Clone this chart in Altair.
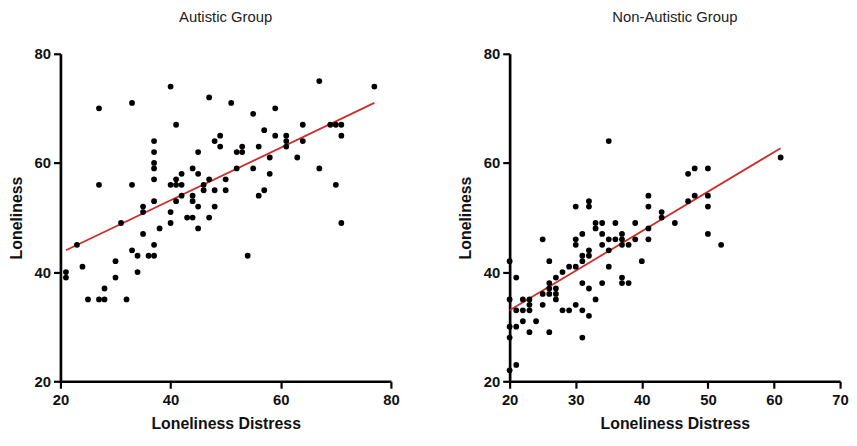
import altair as alt
import pandas as pd

# Autistic group (Loneliness Distress, Loneliness)
aut_x = [21, 21, 23, 24, 25, 27, 28, 28, 32, 30, 30, 34, 33, 34, 31, 35, 35, 35, 36, 37, 37, 37, 38, 40, 40, 41, 42, 43, 44, 44, 44, 45, 45, 47, 48,
         27, 33, 40, 47, 51, 41, 27, 33, 37, 37, 37, 37, 37, 40, 41, 42, 41, 42, 44, 45, 45, 46, 46, 47, 48, 49, 49, 48, 50, 50, 52,
         55, 59, 67, 77, 57, 59, 61, 61, 61, 64, 64, 69, 70, 71, 71, 53, 53, 56, 58, 63, 52, 55, 58, 67, 57, 56, 70, 71, 54]
aut_y = [40, 39, 45, 41, 35, 35, 35, 37, 35, 39, 42, 40, 44, 43, 49, 47, 52, 51, 43, 43, 45, 53, 48, 49, 51, 53, 54, 50, 50, 53, 54, 52, 48, 50, 52,
         70, 71, 74, 72, 71, 67, 56, 56, 64, 62, 60, 59, 57, 56, 56, 56, 57, 58, 59, 58, 62, 56, 55, 57, 64, 65, 63, 55, 57, 55, 62,
         69, 70, 75, 74, 66, 65, 65, 64, 63, 67, 64, 67, 67, 67, 65, 63, 62, 63, 61, 61, 59, 59, 58, 59, 55, 54, 56, 49, 43]

# Non-autistic group
non_x = [35, 30, 32, 32, 41, 41, 33, 33, 34, 36, 39, 31, 34, 37,
         61, 47, 48, 50, 47, 48, 50, 50, 43, 43, 45, 41, 39, 41, 50, 52,
         25, 30, 30, 34, 35, 36, 37, 37, 38, 35, 32, 32, 31, 31, 30, 29, 28, 26, 27, 26, 35, 37, 37, 38, 40, 34, 31, 32, 33,
         26, 27, 26, 27, 27, 25, 25, 28, 29, 30, 31, 32, 31, 26, 22, 22, 23, 23, 23, 21, 22, 24, 23, 21, 20, 20, 20, 21, 20, 21, 20]
non_y = [64, 52, 53, 52, 54, 52, 49, 48, 49, 49, 49, 47, 47, 47,
         61, 58, 59, 59, 53, 54, 54, 52, 51, 50, 49, 48, 46, 46, 47, 45,
         46, 46, 45, 45, 46, 46, 46, 45, 45, 44, 44, 43, 43, 42, 41, 41, 40, 42, 39, 38, 41, 39, 38, 38, 42, 38, 38, 37, 35,
         37, 37, 36, 36, 35, 36, 34, 33, 33, 34, 33, 32, 28, 29, 35, 33, 35, 34, 33, 33, 31, 31, 29, 30, 30, 28, 42, 39, 35, 23, 22]

# Regression line end points
aut_fit_x = [21, 77]
aut_fit_y = [44, 71]
non_fit_x = [20, 61]
non_fit_y = [33, 62.7]

FONT = "Liberation Sans, Arial, sans-serif"


def panel(title, xs, ys, fx, fy, xdom, xticks):
    pts = pd.DataFrame({"x": xs, "y": ys})
    fit = pd.DataFrame({"x": fx, "y": fy})
    xsc = alt.Scale(domain=xdom, nice=False, zero=False)
    ysc = alt.Scale(domain=[20, 80], nice=False, zero=False)
    xax = alt.Axis(values=xticks, title="Loneliness Distress", format="d", labelFlush=False)
    yax = alt.Axis(values=[20, 40, 60, 80], title="Loneliness", format="d", labelFlush=False)
    line = alt.Chart(fit).mark_line(color="#cc2f2b", strokeWidth=1.8).encode(
        x=alt.X("x:Q", scale=xsc, axis=xax),
        y=alt.Y("y:Q", scale=ysc, axis=yax),
    )
    points = alt.Chart(pts).mark_circle(size=34, color="black", opacity=1).encode(
        x=alt.X("x:Q", scale=xsc, axis=xax),
        y=alt.Y("y:Q", scale=ysc, axis=yax),
    )
    return alt.layer(line, points).properties(
        width=334, height=331,
        title=alt.TitleParams(title, fontSize=15, fontWeight="normal", font=FONT,
                              color="#222222", anchor="middle", offset=22),
    )


left = panel("Autistic Group", aut_x, aut_y, aut_fit_x, aut_fit_y, [20, 80], [20, 40, 60, 80])
right = panel("Non-Autistic Group", non_x, non_y, non_fit_x, non_fit_y, [20, 70], [20, 30, 40, 50, 60, 70])

chart = alt.hconcat(left, right, spacing=58).properties(
    padding={"left": 0, "top": 0, "right": 0, "bottom": 0}
).configure_view(
    stroke=None
).configure_axis(
    grid=False,
    domainColor="black", domainWidth=2.7,
    tickColor="black", tickWidth=2.2, tickSize=7,
    labelColor="#111111", labelFont=FONT, labelFontSize=15, labelFontWeight="bold",
    titleColor="#111111", titleFont=FONT, titleFontSize=16, titleFontWeight="bold",
).configure_axisX(labelPadding=4, titlePadding=9).configure_axisY(labelPadding=3, titlePadding=10)

chart.save("out.html", embed_options={"renderer": "svg", "actions": False})
